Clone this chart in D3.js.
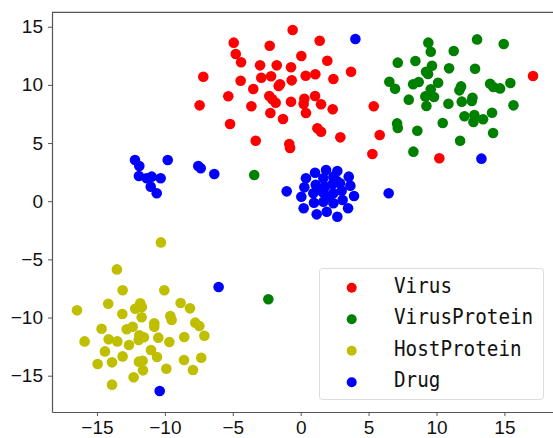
<!DOCTYPE html>
<html>
<head>
<meta charset="utf-8">
<script src="https://cdn.jsdelivr.net/npm/d3@7"></script>
<style>
  html, body { margin: 0; padding: 0; background: #fff; }
  svg { display: block; }
</style>
</head>
<body>
<svg id="chart"></svg>
<script>
// Categories, in plotting / legend order
const categories = ['Virus', 'VirusProtein', 'HostProtein', 'Drug'];
const colors = ['#ff0000', '#008000', '#bfbf00', '#0000ff'];

// Series values ([x, y])
const virus = [
    [-0.59, 14.72], [-4.93, 13.63], [-2.28, 13.37], [1.40, 13.80], [-4.78, 12.65],
    [-4.39, 11.94], [0.05, 12.48], [1.96, 12.08], [-2.99, 11.68], [-1.76, 11.68],
    [-0.71, 11.51], [3.71, 11.13], [-7.17, 10.70], [-4.42, 10.36], [-2.90, 10.62],
    [-2.18, 10.74], [-0.66, 10.39], [0.37, 10.79], [1.08, 10.91], [2.41, 10.50],
    [-1.52, 10.05], [-1.62, 9.90], [-3.49, 9.65], [-5.33, 9.02], [-2.31, 9.04],
    [-2.09, 8.76], [-1.84, 8.47], [-0.71, 8.55], [0.27, 8.81], [0.22, 8.36],
    [1.06, 9.04], [1.50, 8.33], [-7.44, 8.24], [-3.63, 8.16], [-2.23, 7.58],
    [0.39, 7.58], [2.36, 7.90], [-1.30, 7.07], [-5.20, 6.64], [1.23, 6.27],
    [1.50, 5.97], [2.92, 5.49], [-3.31, 5.20], [-0.84, 4.92], [-0.78, 4.57],
    [5.38, 8.16], [5.82, 5.69], [5.28, 4.06], [10.21, 3.69], [17.11, 10.76]
];

const virusProtein = [
    [9.40, 13.63], [9.58, 12.85], [12.99, 13.91], [14.95, 13.51], [7.15, 11.91],
    [8.45, 12.05], [11.27, 12.91], [9.67, 11.65], [9.23, 11.13], [9.38, 10.93],
    [10.93, 11.42], [12.84, 11.39], [6.53, 10.27], [6.95, 9.67], [8.28, 10.05],
    [8.69, 10.25], [10.12, 10.19], [9.58, 9.62], [9.18, 9.01], [9.82, 8.96],
    [9.26, 8.18], [11.81, 9.87], [11.69, 9.53], [7.96, 8.73], [10.88, 8.38],
    [11.86, 8.56], [12.65, 8.90], [12.60, 8.61], [13.95, 10.10], [14.19, 9.82],
    [14.68, 9.70], [15.44, 10.16], [15.67, 8.24], [12.06, 7.30], [12.79, 7.41],
    [12.72, 6.81], [13.43, 7.04], [14.09, 7.61], [7.10, 6.69], [7.15, 6.29],
    [8.59, 6.06], [10.46, 6.72], [14.17, 5.86], [11.74, 5.20], [8.30, 4.26],
    [-3.42, 2.25], [-2.38, -8.43]
];

const hostProtein = [
    [-10.29, -3.54], [-13.53, -5.86], [-13.11, -7.66], [-10.04, -7.66], [-14.17, -8.81],
    [-16.47, -9.38], [-13.13, -9.70], [-12.18, -9.24], [-11.81, -8.78], [-11.69, -9.09],
    [-11.71, -9.98], [-8.84, -8.75], [-8.15, -9.21], [-9.60, -9.87], [-9.50, -10.21],
    [-10.78, -10.50], [-10.78, -10.79], [-7.76, -10.44], [-7.46, -10.73], [-14.66, -10.96],
    [-12.81, -11.01], [-12.37, -10.79], [-15.91, -12.05], [-14.14, -11.87], [-13.50, -12.05],
    [-11.88, -11.53], [-11.93, -11.93], [-11.54, -11.70], [-12.64, -12.36], [-10.48, -11.73],
    [-9.67, -12.10], [-8.57, -11.67], [-7.09, -11.56], [-14.41, -12.91], [-13.11, -13.34],
    [-11.02, -12.79], [-10.58, -13.39], [-14.95, -13.99], [-13.89, -13.85], [-11.91, -13.79],
    [-11.64, -13.71], [-11.61, -14.54], [-9.89, -14.40], [-8.59, -13.65], [-7.32, -13.45],
    [-7.93, -14.51], [-12.30, -15.14], [-13.89, -15.77]
];

const drug = [
    [-1.03, 0.85], [6.48, 0.68], [1.06, 2.45], [1.87, 2.68], [2.70, 2.60],
    [3.54, 2.11], [0.39, 1.97], [1.67, 1.97], [2.41, 2.11], [2.65, 1.76],
    [0.27, 1.19], [1.11, 1.42], [1.79, 1.25], [2.36, 1.48], [2.90, 1.54],
    [3.66, 1.34], [0.05, 0.39], [0.93, 0.68], [1.67, 0.73], [2.41, 0.68],
    [3.02, 0.91], [3.93, 0.45], [0.98, -0.13], [1.67, -0.04], [2.41, -0.18],
    [3.09, 0.10], [0.22, -0.61], [1.18, -1.13], [1.92, -0.90], [2.70, -1.33],
    [3.49, -0.61], [1.43, 0.96], [2.04, 0.39],
    [-12.20, 3.54], [-11.88, 3.03], [-11.91, 2.17], [-11.34, 1.97], [-10.97, 2.11],
    [-11.04, 1.25], [-10.60, 0.68], [-10.31, 1.97], [-9.79, 3.54], [-7.54, 3.03],
    [-7.36, 2.83], [-6.36, 2.34],
    [4.03, 13.94], [13.31, 3.66], [-6.04, -7.38], [-10.38, -16.32]
];

// Tick labels
const xTicks = [-15, -10, -5, 0, 5, 10, 15];
const yTicks = [-15, -10, -5, 0, 5, 10, 15];

const seriesList = [virus, virusProtein, hostProtein, drug];

const width = 553, height = 438;
const plot = { left: 52, right: 553, top: 12.3, bottom: 412 };

const svg = d3.select('#chart')
    .attr('width', width)
    .attr('height', height);

// Scales (right edge of the axes is cropped in the reference)
const x = d3.scaleLinear().domain([-18.31, 18.58]).range([plot.left, plot.right]);
const y = d3.scaleLinear().domain([-18.12, 16.24]).range([plot.bottom, plot.top]);

// Points
seriesList.forEach((pts, i) => {
    svg.append('g')
        .selectAll('circle')
        .data(pts)
        .enter()
        .append('circle')
        .attr('cx', d => x(d[0]))
        .attr('cy', d => y(d[1]))
        .attr('r', 5.3)
        .attr('fill', colors[i]);
});

// Axes
const tickFont = '"Liberation Sans", Arial, sans-serif';

const xAxis = svg.append('g')
    .attr('transform', `translate(0,${plot.bottom})`)
    .call(d3.axisBottom(x).tickValues(xTicks).tickSize(4).tickPadding(4.5).tickSizeOuter(0));

const yAxis = svg.append('g')
    .attr('transform', `translate(${plot.left},0)`)
    .call(d3.axisLeft(y).tickValues(yTicks).tickSize(4).tickPadding(5).tickSizeOuter(0));

[xAxis, yAxis].forEach(g => {
    g.select('.domain').attr('stroke', '#555').attr('stroke-width', 1.2);
    g.selectAll('.tick line').attr('stroke', '#555').attr('stroke-width', 1);
    g.selectAll('.tick text')
        .attr('fill', '#111')
        .style('font-family', tickFont)
        .style('font-size', '19px');
});

// Top spine
svg.append('line')
    .attr('x1', plot.left).attr('x2', plot.right)
    .attr('y1', plot.top).attr('y2', plot.top)
    .attr('stroke', '#555')
    .attr('stroke-width', 1.2);

// Legend
const legend = svg.append('g');
legend.append('rect')
    .attr('x', 319.5).attr('y', 268.5)
    .attr('width', 224).attr('height', 131)
    .attr('rx', 3)
    .attr('fill', '#fff')
    .attr('fill-opacity', 0.8)
    .attr('stroke', '#dcdcdc');

categories.forEach((name, i) => {
    const rowY = 287.7 + i * 31.5;
    legend.append('circle')
        .attr('cx', 351.7)
        .attr('cy', rowY)
        .attr('r', 5)
        .attr('fill', colors[i]);
    legend.append('text')
        .attr('x', 394)
        .attr('y', rowY + 5)
        .attr('textLength', name.length * 11.6)
        .attr('lengthAdjust', 'spacingAndGlyphs')
        .style('font-family', '"DejaVu Sans Mono", monospace')
        .style('font-size', '21px')
        .attr('fill', '#111')
        .text(name);
});
</script>
</body>
</html>
